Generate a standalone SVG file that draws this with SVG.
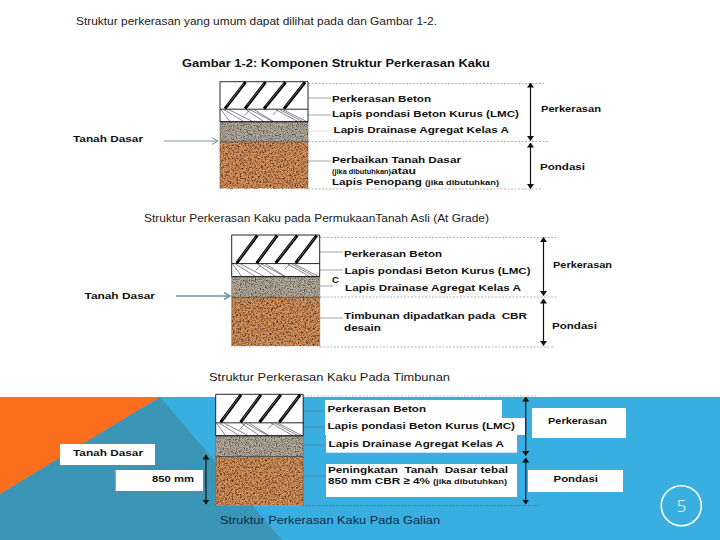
<svg xmlns="http://www.w3.org/2000/svg" xmlns:xlink="http://www.w3.org/1999/xlink" width="720" height="540" viewBox="0 0 720 540">
<style>
text{font-family:"Liberation Sans",Arial,sans-serif;fill:#111}
.b{font-weight:700;font-size:9.6px;white-space:pre}
.s{font-weight:700;font-size:6.8px}
.t{font-size:11.3px;fill:#1a1a1a}
.h{font-weight:700;font-size:10.6px}
.lead{stroke:#9a9a9a;stroke-width:.9;fill:none}
.dash{stroke:#aaa;stroke-width:.9;stroke-dasharray:2 1.5;fill:none}
.dim{stroke:#111;stroke-width:1.2;fill:none;marker-start:url(#tip);marker-end:url(#tip)}
.navy{stroke:#0c2f46;stroke-width:1.4}
.box{fill:#fff}
.arr{stroke:#7d93a6;stroke-width:1;fill:none}
</style>
<defs>
<marker id="tip" viewBox="0 0 5 7" refX="4.500" refY="3.500" markerWidth="5" markerHeight="7" markerUnits="userSpaceOnUse" orient="auto-start-reverse"><path d="M0 0L5 3.500L0 7Z" fill="#111"/></marker>
<filter id="gravel" x="0" y="0" width="1" height="1" color-interpolation-filters="sRGB"><feTurbulence type="fractalNoise" baseFrequency="0.8" numOctaves="2" seed="4"/><feColorMatrix values="1.700 0 0 0 .05 1.700 0 0 0 .05 1.700 0 0 0 .05 0 0 0 0 1"/><feGaussianBlur stdDeviation=".3"/><feBlend in2="SourceGraphic" mode="multiply"/><feComposite in2="SourceGraphic" operator="in"/></filter>
<filter id="soil" x="0" y="0" width="1" height="1" color-interpolation-filters="sRGB"><feTurbulence type="fractalNoise" baseFrequency="0.6" numOctaves="3" seed="9"/><feColorMatrix values="1.700 0 0 0 .02 1.700 0 0 0 .02 1.700 0 0 0 .02 0 0 0 0 1"/><feGaussianBlur stdDeviation=".3"/><feBlend in2="SourceGraphic" mode="multiply"/><feComposite in2="SourceGraphic" operator="in"/></filter>
<g id="block">
<rect x="0" y="0" width="88" height="40" fill="#fff"/>
<g stroke="#000" stroke-width="3" fill="none"><path d="M5 27L25.500 .5M25 27L45.500 .5M44 27L65.500 .5M64 27L85 .5"/></g>
<g stroke="#ccc" stroke-width=".5" fill="none"><path d="M7 24L24 2M27 24L44 2M46 24L64 2M66 24L83.500 2"/></g>
<g stroke="#555" stroke-width=".7" fill="none"><path d="M1 28L10 40M4 28L24 40M9 28L33 40M26 28L44 40M30 28L53 40M34 28L54 40M56 28L78 40M60 28L83 40M63 28L87 40M24 34L30 28M53 33L58 28"/></g>
<rect x="0" y="40" width="88" height="20" fill="#b5a99c" filter="url(#gravel)"/>
<rect x="0" y="60" width="88" height="47" fill="#d8915a" filter="url(#soil)"/>
<path d="M0 0H88V40H0Z M0 27.500H88" fill="none" stroke="#111" stroke-width=".9"/>
<path d="M0 40V107M88 40V107" stroke="#6a5a4a" stroke-width=".6" fill="none"/>
<path d="M0 40H88" stroke="#222" stroke-width=".8"/>
<path d="M0 60H88" stroke="#333" stroke-width=".7"/>
</g>
</defs>

<rect id="bg" width="720" height="540" fill="#fff"/>
<g id="slide-bg">
<rect x="0" y="397" width="720" height="143" fill="#39aee0"/>
<path d="M160 397L282 540H0V494Z" fill="#3a95b7"/>
<path d="M0 397H160L0 494Z" fill="#fa6e1e"/>
</g>

<text class="t" x="76" y="25" textLength="361" lengthAdjust="spacingAndGlyphs">Struktur perkerasan yang umum dapat dilihat pada dan Gambar 1-2.</text>
<text class="h" x="182" y="67" textLength="308" lengthAdjust="spacingAndGlyphs">Gambar 1-2: Komponen Struktur Perkerasan Kaku</text>

<g id="connectors">
<path class="dash" d="M308 83.500H544M308 141.500H548M308 189H542"/>
<path class="lead" d="M308 98H331M308 115H331"/>
<path class="lead" d="M308 131H332" style="stroke:#ddd"/>
<path class="lead" d="M308 161H331"/>
<path class="arr" d="M164 141H218M212 137.500L218 141L212 144.500"/>
<path class="dim" d="M530.500 83V140.500"/>
<path class="dim" d="M530.500 143V188.500"/>

<path class="dash" d="M320 237.500H556M320 297H558M320 347H554"/>
<path class="lead" d="M320 252H343M320 270H343M320 286H333M320 318H343"/>
<path class="arr" style="stroke-width:1.600" d="M176 296H230M224 292.500L230 296L224 299.500"/>
<path class="dim" d="M543.500 237.500V295.500"/>
<path class="dim" d="M543.500 299V345.500"/>

<path class="lead" style="stroke:#5d8aa3" d="M303 411H326M303 427H326M303 445H326M303 476H326"/>
<path d="M303 396H538" stroke="#b9c9d2" stroke-width="1" stroke-dasharray="2 1.500" fill="none"/>
<path d="M303 505.500H540" stroke="#2c7a9c" stroke-width=".9" stroke-dasharray="1.500 1.500" fill="none"/>
<path class="arr" d="M209 455H215"/>
<path class="dim" d="M206 455V504"/>
<path class="dim navy" d="M525.700 397V455.500"/>
<path class="dim navy" d="M525.700 458V504"/>
</g>

<g id="diagram-1">
<use xlink:href="#block" href="#block" transform="translate(220 81.700)"/>
<text class="b" x="73" y="142" textLength="70" lengthAdjust="spacingAndGlyphs">Tanah Dasar</text>
<text class="b" x="332" y="101.700" textLength="99" lengthAdjust="spacingAndGlyphs">Perkerasan Beton</text>
<text class="b" x="332" y="117" textLength="187" lengthAdjust="spacingAndGlyphs">Lapis pondasi Beton Kurus (LMC)</text>
<text class="b" x="333.500" y="133" textLength="175.500" lengthAdjust="spacingAndGlyphs">Lapis Drainase Agregat Kelas A</text>
<text class="b" x="332" y="162.700" textLength="129" lengthAdjust="spacingAndGlyphs">Perbaikan Tanah Dasar</text>
<text class="s" x="332" y="174" textLength="59" lengthAdjust="spacingAndGlyphs">(jika dibutuhkan)</text>
<text class="b" x="391" y="174" textLength="25" lengthAdjust="spacingAndGlyphs">atau</text>
<text class="b" x="332" y="185" textLength="90" lengthAdjust="spacingAndGlyphs">Lapis Penopang</text>
<text class="s" x="425" y="185" textLength="74" lengthAdjust="spacingAndGlyphs">(jika dibutuhkan)</text>
<text class="b" x="541" y="112" textLength="60" lengthAdjust="spacingAndGlyphs">Perkerasan</text>
<text class="b" x="540" y="170" textLength="45" lengthAdjust="spacingAndGlyphs">Pondasi</text>
</g>

<g id="diagram-2">
<text class="t" x="144" y="222" textLength="345" lengthAdjust="spacingAndGlyphs">Struktur Perkerasan Kaku pada PermukaanTanah Asli (At Grade)</text>
<use xlink:href="#block" href="#block" transform="translate(231.700 235) scale(1 1.040)"/>
<text class="b" x="84.500" y="299" textLength="70.500" lengthAdjust="spacingAndGlyphs">Tanah Dasar</text>
<text class="b" x="344" y="257" textLength="98" lengthAdjust="spacingAndGlyphs">Perkerasan Beton</text>
<text class="b" x="344.500" y="274" textLength="186" lengthAdjust="spacingAndGlyphs">Lapis pondasi Beton Kurus (LMC)</text>
<text class="b" x="332" y="283">C</text>
<text class="b" x="345" y="290.700" textLength="176" lengthAdjust="spacingAndGlyphs">Lapis Drainase Agregat Kelas A</text>
<text class="b" x="344" y="319" textLength="183" lengthAdjust="spacingAndGlyphs">Timbunan dipadatkan pada  CBR</text>
<text class="b" x="344" y="330.700" textLength="37" lengthAdjust="spacingAndGlyphs">desain</text>
<text class="b" x="553" y="267.700" textLength="59" lengthAdjust="spacingAndGlyphs">Perkerasan</text>
<text class="b" x="552" y="329" textLength="45" lengthAdjust="spacingAndGlyphs">Pondasi</text>
</g>

<g id="diagram-3">
<text class="t" x="209" y="381" textLength="241" lengthAdjust="spacingAndGlyphs">Struktur Perkerasan Kaku Pada Timbunan</text>
<use xlink:href="#block" href="#block" transform="translate(215.700 394.300) scale(.994 1.037)"/>
<rect class="box" x="60" y="444" width="95" height="21"/>
<text class="b" x="73" y="456" textLength="70" lengthAdjust="spacingAndGlyphs">Tanah Dasar</text>
<rect class="box" x="115.700" y="470" width="87.300" height="21"/>
<text class="b" x="152" y="482" textLength="42" lengthAdjust="spacingAndGlyphs">850 mm</text>
<rect class="box" x="325" y="400" width="177" height="18"/>
<rect class="box" x="325" y="418" width="200" height="17"/>
<rect class="box" x="326" y="435" width="191" height="17.700"/>
<rect class="box" x="326" y="464" width="191" height="33"/>
<rect class="box" x="532" y="408" width="94" height="30"/>
<rect class="box" x="528" y="470" width="95" height="22"/>
<text class="b" x="327.500" y="411.700" textLength="98.500" lengthAdjust="spacingAndGlyphs">Perkerasan Beton</text>
<text class="b" x="327.500" y="429" textLength="187.500" lengthAdjust="spacingAndGlyphs">Lapis pondasi Beton Kurus (LMC)</text>
<text class="b" x="328.500" y="447" textLength="175.500" lengthAdjust="spacingAndGlyphs">Lapis Drainase Agregat Kelas A</text>
<text class="b" x="328" y="473" textLength="180" lengthAdjust="spacingAndGlyphs">Peningkatan  Tanah  Dasar tebal</text>
<text class="b" x="328" y="484" textLength="102" lengthAdjust="spacingAndGlyphs">850 mm CBR ≥ 4%</text>
<text class="s" x="433" y="484" textLength="74" lengthAdjust="spacingAndGlyphs">(jika dibutuhkan)</text>
<text class="b" x="548" y="424" textLength="59" lengthAdjust="spacingAndGlyphs">Perkerasan</text>
<text class="b" x="553.500" y="482" textLength="44.500" lengthAdjust="spacingAndGlyphs">Pondasi</text>
<text class="t" x="220" y="524" textLength="220" lengthAdjust="spacingAndGlyphs" style="fill:#0d2a45">Struktur Perkerasan Kaku Pada Galian</text>
</g>

<g id="page-number">
<circle cx="681.300" cy="505.700" r="20" fill="none" stroke="#fff" stroke-width="1.600"/>
<text x="681.300" y="512" text-anchor="middle" style="fill:#fff;font-size:17px;font-family:'Open Sans','Liberation Sans',sans-serif;font-weight:300">5</text>
</g>
</svg>
